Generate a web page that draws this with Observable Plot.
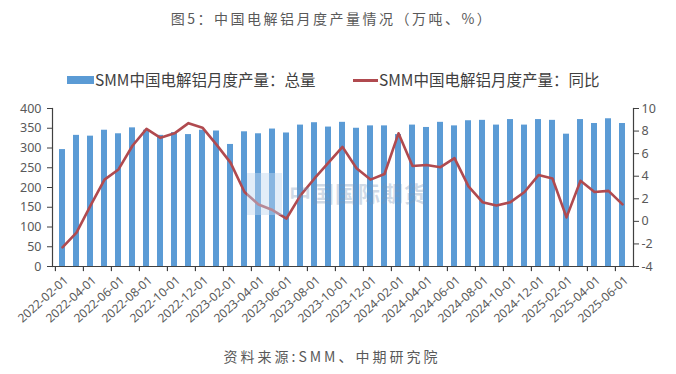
<!DOCTYPE html>
<html>
<head>
<meta charset="utf-8">
<script src="https://cdn.jsdelivr.net/npm/d3@7"></script>
<script src="https://cdn.jsdelivr.net/npm/@observablehq/plot@0.6"></script>
<style>
  body { margin: 0; background: #fff; width: 676px; height: 374px; position: relative; overflow: hidden;
         font-family: "Noto Sans CJK SC", "Noto Sans", sans-serif; }
  #title { position: absolute; top: 7px; left: 0; width: 664px; text-align: center; font-size: 14px;
           letter-spacing: 2.5px; color: #595959; line-height: 22px; }
  #legend { position: absolute; top: 67px; left: 0; width: 676px; height: 24px; font-size: 15.5px; color: #404040; }
  .li { position: absolute; top: 0; line-height: 24px; white-space: nowrap; }
  .sw { position: absolute; }
  #chart { position: absolute; top: 95px; left: 0; }
  #caption { position: absolute; top: 345px; left: 0; width: 664px; text-align: center; font-size: 14px;
             letter-spacing: 3px; color: #595959; line-height: 22px; }
  #wm { position: absolute; top: 173px; left: 247px; height: 42px; pointer-events: none; }
  #wm .box { position: absolute; left: 0; top: 0; width: 35px; height: 42px; background: rgba(190,215,240,0.45); }
  #wm .txt { position: absolute; left: 42px; top: 3px; font-size: 22px; font-weight: bold; letter-spacing: 1px;
             color: rgba(120,150,185,0.35); white-space: nowrap; line-height: 32px; }
</style>
</head>
<body>
<div id="title">图5：中国电解铝月度产量情况（万吨、%）</div>
<div id="legend"></div>
<div id="chart"></div>
<div id="wm"><div class="box"></div><div class="txt">中国国际期货</div></div>
<div id="caption">资料来源:SMM、中期研究院</div>
<script>
const months = [
  "2022-02-01","2022-03-01","2022-04-01","2022-05-01","2022-06-01","2022-07-01","2022-08-01","2022-09-01",
  "2022-10-01","2022-11-01","2022-12-01","2023-01-01","2023-02-01","2023-03-01","2023-04-01","2023-05-01",
  "2023-06-01","2023-07-01","2023-08-01","2023-09-01","2023-10-01","2023-11-01","2023-12-01","2024-01-01",
  "2024-02-01","2024-03-01","2024-04-01","2024-05-01","2024-06-01","2024-07-01","2024-08-01","2024-09-01",
  "2024-10-01","2024-11-01","2024-12-01","2025-01-01","2025-02-01","2025-03-01","2025-04-01","2025-05-01",
  "2025-06-01"
];
// 总量 (万吨)
const total = [
  296, 332, 330, 345, 336, 351, 345, 332,
  339, 334, 345, 343, 309, 341, 336, 348,
  338, 358, 364, 353, 365, 350, 356, 356,
  334, 358, 352, 365, 356, 369, 370, 358,
  372, 358, 372, 370, 335, 372, 362, 374,
  362
];
// 同比 (%)
const yoy = [
  -2.3, -1.0, 1.4, 3.7, 4.6, 6.7, 8.2, 7.4,
  7.8, 8.7, 8.3, 6.8, 5.2, 2.6, 1.5, 1.0,
  0.25, 2.3, 3.8, 5.2, 6.6, 4.7, 3.7, 4.2,
  7.8, 4.9, 5.0, 4.8, 5.6, 3.1, 1.7, 1.4,
  1.7, 2.6, 4.1, 3.8, 0.35, 3.6, 2.6, 2.7,
  1.5
];
const xTickLabels = months.filter((d, i) => i % 2 === 0);
const leftTicks = [0, 50, 100, 150, 200, 250, 300, 350, 400];
const rightTicks = [-4, -2, 0, 2, 4, 6, 8, 10];
const seriesNames = ["SMM中国电解铝月度产量：总量", "SMM中国电解铝月度产量：同比"];

const barColor = "#5b9bd5";
const lineColor = "#b04a4f";
const axisColor = "#404040";
const textColor = "#595959";

const data = months.map((m, i) => ({month: m, total: total[i], yoy: yoy[i]}));

// right axis [-4,10] mapped onto left axis [0,400]
const R0 = -4, R1 = 10, L1 = 400;
const toLeft = v => (v - R0) * L1 / (R1 - R0);
const toRight = y => y * (R1 - R0) / L1 + R0;

const W = 676, H = 245, mL = 52, mR = 43, mT = 13, mB = 74;
const step = (W - mL - mR) / months.length;

const chart = Plot.plot({
  width: W, height: H,
  marginLeft: mL, marginRight: mR, marginTop: mT, marginBottom: mB,
  style: {fontFamily: "'Noto Sans', 'Noto Sans CJK SC', sans-serif", fontSize: "12px", color: textColor, background: "#fff"},
  x: {type: "band", domain: months, paddingInner: 0.55, paddingOuter: 0.275, axis: null},
  y: {domain: [0, 400], axis: null},
  marks: [
    Plot.barY(data, {x: "month", y: "total", fill: barColor}),
    Plot.line(data, {x: "month", y: d => toLeft(d.yoy), stroke: lineColor, strokeWidth: 2.6, curve: "linear"}),
    Plot.frame({anchor: "left", stroke: axisColor, strokeWidth: 1.2}),
    Plot.frame({anchor: "right", stroke: axisColor, strokeWidth: 1.2}),
    Plot.ruleY([0], {stroke: axisColor, strokeWidth: 1.2}),
    Plot.axisY(leftTicks, {anchor: "left", tickSize: 5, tickPadding: 6, stroke: axisColor, fill: textColor, fontSize: 12.5, label: null}),
    Plot.axisY(rightTicks.map(toLeft), {anchor: "right", tickSize: 5, tickPadding: 3, stroke: axisColor, fill: textColor, fontSize: 12.5, tickFormat: y => String(Math.round(toRight(y))), label: null}),
    Plot.ruleX(xTickLabels, {x: d => d, y1: 0, y2: -13, dx: -step / 2, stroke: axisColor, strokeWidth: 1.2}),
    Plot.axisX(xTickLabels, {tickSize: 0, tickPadding: 12, dx: 4, tickRotate: -42, fill: textColor, fontSize: 12, label: null})
  ]
});
document.getElementById("chart").appendChild(chart);

// legend
const lg = document.getElementById("legend");
lg.innerHTML = `
  <div class="sw" style="left:67px;top:9px;width:27px;height:8px;background:${barColor}"></div>
  <div class="li" style="left:95px">${seriesNames[0]}</div>
  <div class="sw" style="left:353px;top:12px;width:25px;height:2.5px;background:${lineColor}"></div>
  <div class="li" style="left:379px">${seriesNames[1]}</div>`;
</script>
</body>
</html>
